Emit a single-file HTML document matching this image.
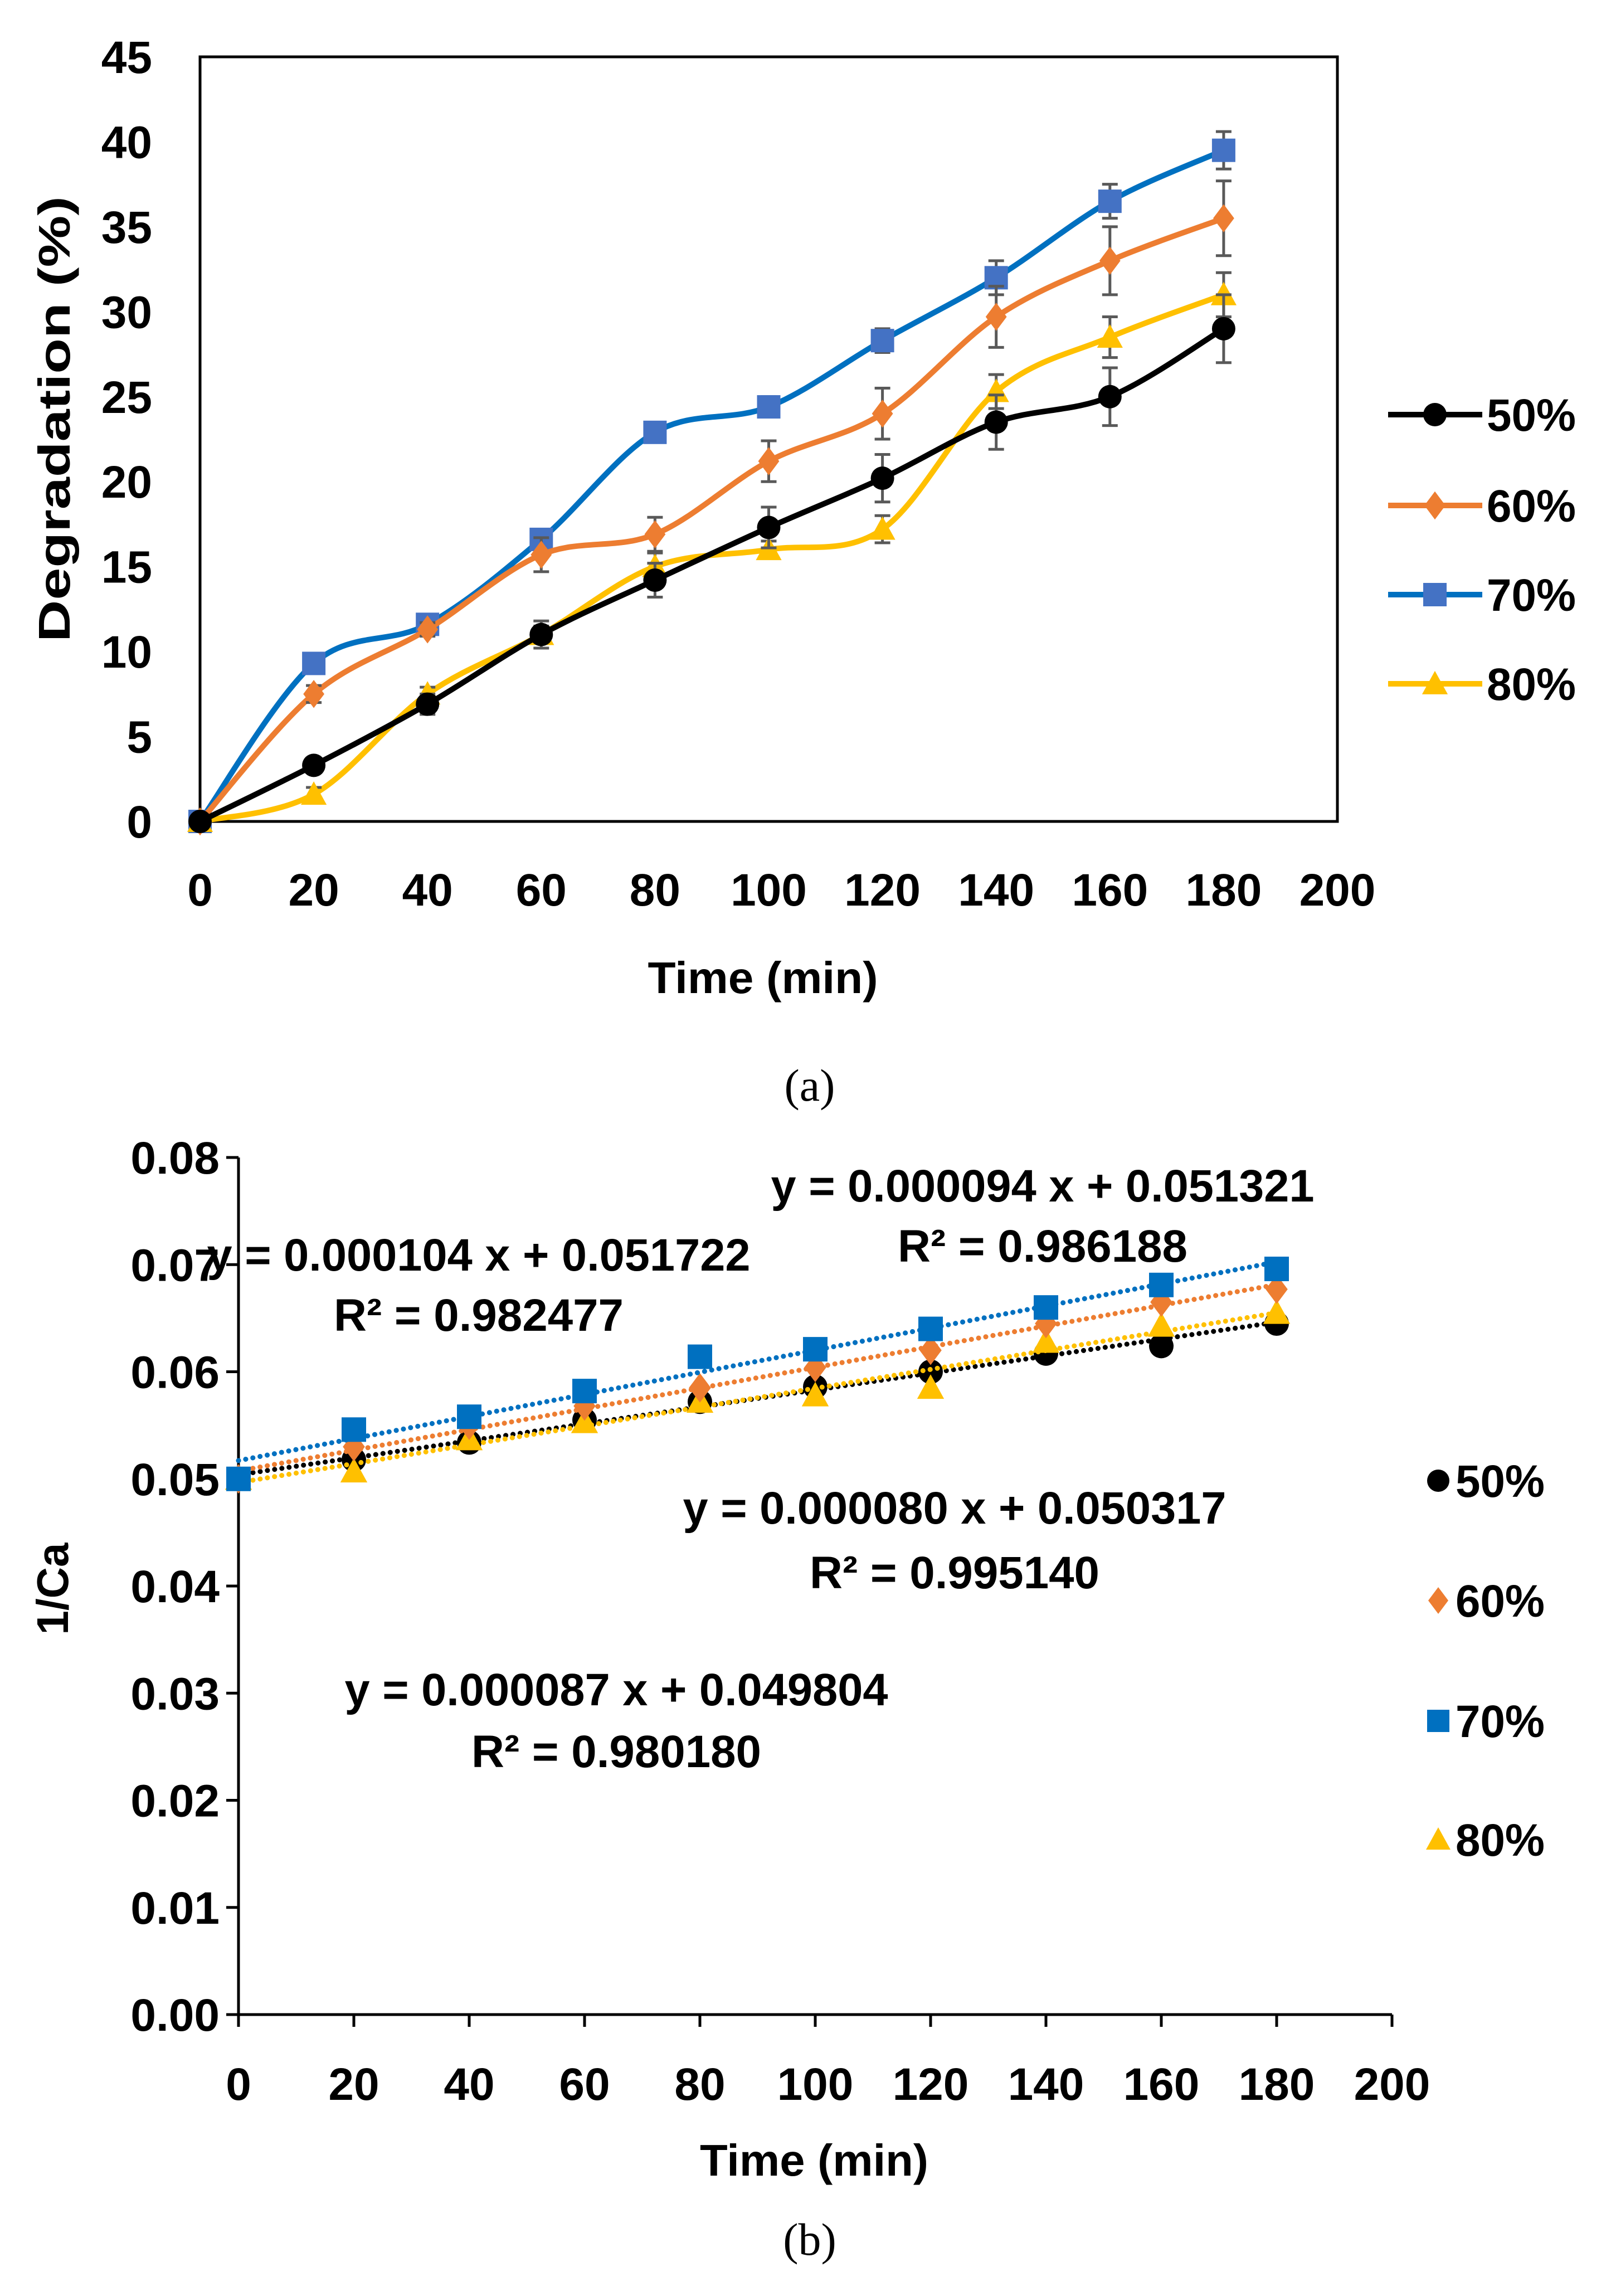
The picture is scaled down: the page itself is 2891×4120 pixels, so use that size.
<!DOCTYPE html>
<html><head><meta charset="utf-8">
<style>
html,body{margin:0;padding:0;background:#fff;}
svg{display:block;}
.tk{font-family:"Liberation Sans Narrow","Liberation Sans",sans-serif;font-weight:bold;font-size:82px;fill:#000;}
.ttl{font-family:"Liberation Sans",sans-serif;font-weight:bold;font-size:80px;fill:#000;}
.cap{font-family:"Liberation Serif",serif;font-size:82px;fill:#000;}
</style></head>
<body>
<svg id="fig" width="2891" height="4120" viewBox="0 0 2891 4120" xmlns="http://www.w3.org/2000/svg"></svg>
<script>
const times=[0,20,40,60,80,100,120,140,160,180];
const seriesNames=["50%","60%","70%","80%"];
const deg50=[0,3.3,6.9,11,14.2,17.3,20.2,23.5,25,29];
const deg60=[0,7.5,11.3,15.7,16.9,21.2,24,29.7,33,35.5];
const deg70=[0,9.3,11.6,16.6,22.9,24.4,28.3,32,36.5,39.5];
const deg80=[0,1.6,7.5,11,15,16,17.2,25.3,28.5,31];
const err50=[0,0.3,0.6,0.8,1,1.2,1.4,1.6,1.7,2];
const err60=[0,0.5,0.4,1,1,1.2,1.5,1.8,2,2.2];
const err70=[0,0.3,0.5,0.5,0.4,0.6,0.7,1,1,1.1];
const err80=[0,0.4,0.4,0.5,0.8,0.5,0.8,1,1.2,1.3];
const inv50=[0.0500,0.0518,0.0534,0.0555,0.0572,0.0586,0.0600,0.0617,0.0624,0.0645];
const inv60=[0.0500,0.0530,0.0550,0.0568,0.0585,0.0604,0.0620,0.0645,0.0665,0.0677];
const inv70=[0.0500,0.0546,0.0558,0.0582,0.0614,0.0621,0.0640,0.0660,0.0681,0.0696];
const inv80=[0.0500,0.0507,0.0537,0.0553,0.0572,0.0578,0.0585,0.0628,0.0643,0.0655];
const xTicks=[0,20,40,60,80,100,120,140,160,180,200];
const yTicksA=[0,5,10,15,20,25,30,35,40,45];
const yTicksB=[0,0.01,0.02,0.03,0.04,0.05,0.06,0.07,0.08];
const eqTexts=["y = 0.000094 x + 0.051321","R² = 0.986188","y = 0.000104 x + 0.051722","R² = 0.982477","y = 0.000080 x + 0.050317","R² = 0.995140","y = 0.000087 x + 0.049804","R² = 0.980180"];

const NS="http://www.w3.org/2000/svg";
const svg=document.getElementById('fig');
function el(tag,attrs,parent,text){const e=document.createElementNS(NS,tag);for(const k in attrs)e.setAttribute(k,attrs[k]);if(text!==undefined)e.textContent=text;(parent||svg).appendChild(e);return e;}
const colors=["#000000","#ED7D31","#4472C4","#FFC000"];
const colorsB=["#000000","#ED7D31","#0070C0","#FFC000"];
const lineColors=["#000000","#ED7D31","#0070C0","#FFC000"];
const markers=["circle","diamond","square","triangle"];
function marker(g,type,x,y,s,fill){
  let m;
  if(type==="circle")m=el('circle',{cx:x,cy:y,r:s*0.5,fill:fill},g);
  else if(type==="square")m=el('rect',{x:x-s/2,y:y-s/2,width:s,height:s,fill:fill},g);
  else if(type==="diamond")m=el('polygon',{points:`${x},${y-s*0.6} ${x+s*0.45},${y} ${x},${y+s*0.6} ${x-s*0.45},${y}`,fill:fill},g);
  else m=el('polygon',{points:`${x},${y-s*0.55} ${x+s*0.55},${y+s*0.45} ${x-s*0.55},${y+s*0.45}`,fill:fill},g);
  return m;
}
function smoothPath(pts){
  let d=`M${pts[0][0]},${pts[0][1]}`;
  for(let i=0;i<pts.length-1;i++){
    const p0=pts[Math.max(i-1,0)],p1=pts[i],p2=pts[i+1],p3=pts[Math.min(i+2,pts.length-1)];
    const t=1/6;
    const c1=[p1[0]+(p2[0]-p0[0])*t,p1[1]+(p2[1]-p0[1])*t];
    const c2=[p2[0]-(p3[0]-p1[0])*t,p2[1]-(p3[1]-p1[1])*t];
    d+=` C${c1[0]},${c1[1]} ${c2[0]},${c2[1]} ${p2[0]},${p2[1]}`;
  }
  return d;
}

/* ---------- Chart A ---------- */
const A={l:359,r:2400,t:102,b:1474};
const ax=v=>A.l+(v/200)*(A.r-A.l);
const ay=v=>A.b-(v/45)*(A.b-A.t);
const gA=el('g',{});

const frame=el('rect',{x:A.l,y:A.t,width:A.r-A.l,height:A.b-A.t,fill:'none',stroke:'#000',"stroke-width":5},gA);

yTicksA.forEach(v=>{const t=el('text',{x:273,y:ay(v)+29,"text-anchor":"end",class:"tk"},gA,String(v));});
xTicks.forEach(v=>{const t=el('text',{x:ax(v),y:1625,"text-anchor":"middle",class:"tk"},gA,String(v));});
const ytA=el('text',{transform:`translate(125,752) rotate(-90)`,"text-anchor":"middle",class:"ttl",textLength:800,lengthAdjust:"spacingAndGlyphs"},gA,"Degradation (%)");

const xtA=el('text',{x:1369,y:1782,"text-anchor":"middle",class:"ttl",textLength:413,lengthAdjust:"spacingAndGlyphs"},gA,"Time (min)");

const degs=[deg50,deg60,deg70,deg80],errs=[err50,err60,err70,err80];
[2,1,3,0].forEach(si=>{
  const g=el('g',{},gA);
  
  const pts=times.map((t,i)=>[ax(t),ay(degs[si][i])]);
  el('path',{d:smoothPath(pts),fill:'none',stroke:lineColors[si],"stroke-width":10,"stroke-linejoin":"round"},g);
  times.forEach((t,i)=>{
    const e=errs[si][i];if(e<=0)return;
    const x=ax(t),y1=ay(degs[si][i]+e),y2=ay(degs[si][i]-e);
    const eb=el('path',{d:`M${x},${y1}V${y2}M${x-14},${y1}H${x+14}M${x-14},${y2}H${x+14}`,stroke:'#595959',"stroke-width":5,fill:'none'},g);
    
  });
  times.forEach((t,i)=>{const m=marker(g,markers[si],ax(t),ay(degs[si][i]),42,colors[si]);});
});
const legYA=[744,907,1067,1227];
seriesNames.forEach((n,i)=>{
  const g=el('g',{},gA);
  
  el('line',{x1:2491,x2:2660,y1:legYA[i],y2:legYA[i],stroke:lineColors[i],"stroke-width":10},g);
  marker(g,markers[i],2575,legYA[i],42,colors[i]);
  el('text',{x:2668,y:legYA[i]+29,class:"tk",textLength:160,lengthAdjust:"spacingAndGlyphs"},g,n);
});
const capA=el('text',{x:1453,y:1975,"text-anchor":"middle",class:"cap"},svg,"(a)");


/* ---------- Chart B ---------- */
const B={l:428,r:2498,t:2077,b:3615};
const bx=v=>B.l+(v/200)*(B.r-B.l);
const by=v=>B.b-(v/0.08)*(B.b-B.t);
const gB=el('g',{});

const axL=el('path',{d:`M${B.l},${B.t}V${B.b}H${B.r}`,fill:'none',stroke:'#000',"stroke-width":5},gB);

yTicksB.forEach(v=>{el('line',{x1:B.l-22,x2:B.l,y1:by(v),y2:by(v),stroke:'#000',"stroke-width":5},gB);
  const t=el('text',{x:394,y:by(v)+29,"text-anchor":"end",class:"tk"},gB,v.toFixed(2));});
xTicks.forEach(v=>{el('line',{x1:bx(v),x2:bx(v),y1:B.b,y2:B.b+22,stroke:'#000',"stroke-width":5},gB);
  const t=el('text',{x:bx(v),y:3768,"text-anchor":"middle",class:"tk"},gB,String(v));});
const ytB=el('text',{transform:`translate(122,2851) rotate(-90)`,"text-anchor":"middle",class:"ttl",textLength:165,lengthAdjust:"spacingAndGlyphs"},gB,"1/Ca");

const xtB=el('text',{x:1461,y:3904,"text-anchor":"middle",class:"ttl",textLength:410,lengthAdjust:"spacingAndGlyphs"},gB,"Time (min)");

const invs=[inv50,inv60,inv70,inv80];
function fit(ys){const n=times.length;const mx=times.reduce((a,b)=>a+b)/n,my=ys.reduce((a,b)=>a+b)/n;let sxy=0,sxx=0;times.forEach((t,i)=>{sxy+=(t-mx)*(ys[i]-my);sxx+=(t-mx)**2;});const s=sxy/sxx;return [s,my-s*mx];}
[0,3,1,2].forEach(si=>{
  const g=el('g',{},gB);
  
  const [s,c]=fit(invs[si]);
  const tl=el('line',{x1:bx(0),y1:by(c),x2:bx(180),y2:by(c+s*180),stroke:colorsB[si],"stroke-width":9,"stroke-dasharray":"0.1 13","stroke-linecap":"round"},g);
  
  times.forEach((t,i)=>{const m=marker(g,markers[si],bx(t),by(invs[si][i]),44,colorsB[si]);});
});
const eqPos=[[1871,2156],[1871,2264],[859,2280],[859,2388],[1713,2734],[1713,2850],[1106,3060],[1106,3171]];
eqTexts.forEach((s,i)=>{
  const w=(i%2===0)?975:520;
  const t=el('text',{x:eqPos[i][0],y:eqPos[i][1],"text-anchor":"middle",class:"tk",textLength:w,lengthAdjust:"spacingAndGlyphs"},gB,s);
  
});
const legYB=[2657,2872,3088,3301];
seriesNames.forEach((n,i)=>{
  const g=el('g',{},gB);
  
  marker(g,markers[i],2581,legYB[i],40,colorsB[i]);
  el('text',{x:2612,y:legYB[i]+29,class:"tk",textLength:160,lengthAdjust:"spacingAndGlyphs"},g,n);
});
const capB=el('text',{x:1453,y:4046,"text-anchor":"middle",class:"cap"},svg,"(b)");

</script>
</body></html>
